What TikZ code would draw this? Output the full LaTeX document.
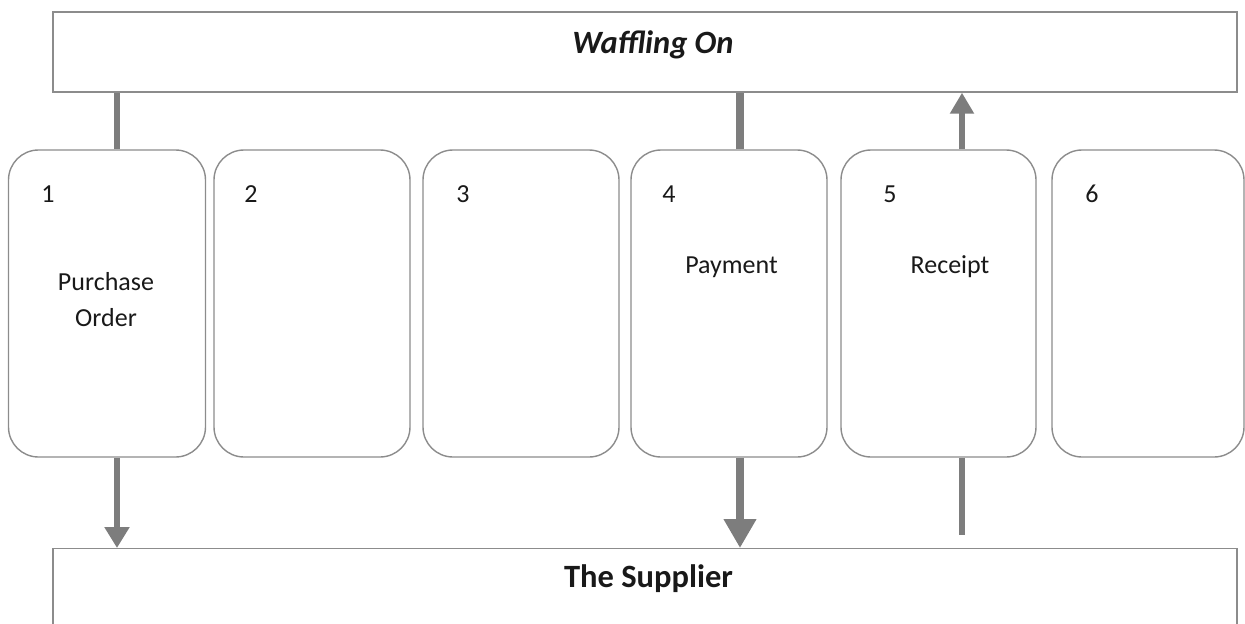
\documentclass[tikz,border=0pt]{standalone}
\usepackage{fontspec}
\setmainfont{Carlito}
\usetikzlibrary{arrows.meta}
\definecolor{boxgray}{RGB}{140,140,140}
\definecolor{linkgray}{RGB}{125,125,125}
\definecolor{inkblack}{RGB}{25,25,25}
\tikzstyle{party}=[draw=boxgray,line width=0.8pt,minimum width=23.68cm,minimum height=1.6cm,inner sep=0pt]
\tikzstyle{stage}=[draw=boxgray,line width=0.8pt,rounded corners=0.6cm,minimum height=6.14cm,inner sep=0pt]
\tikzstyle{title}=[text=inkblack,font=\fontsize{18.5}{22}\selectfont\bfseries,anchor=base]
\tikzstyle{caption}=[text=inkblack,font=\fontsize{14.8}{20.5}\selectfont,align=center]
\tikzstyle{link} = [draw=linkgray,line width=3.4pt]
\tikzstyle{heavy} = [draw=linkgray,line width=5pt]

\begin{document}
\begin{tikzpicture}
    % Page size of the whole picture
    \useasboundingbox (0,0) rectangle (24.9,-12.46);
    % First we draw the two parties
    \node[party] (waffle) at (12.9,-1.04) {};
    \node[party,anchor=north] (supplier) at (12.9,-10.96) {};
    \node[title] (wafflename) at (13.06,-1.06) {\itshape Waffling On};
    \node[title] (suppliername) at (12.97,-11.74) {The Supplier};
    % Then the six stages
    \foreach \pos/\boxw/\name in {{(2.14,-6.07)/3.94/s1}, {(6.24,-6.07)/3.92/s2}, {(10.42,-6.07)/3.92/s3},
                                  {(14.58,-6.07)/3.92/s4}, {(18.77,-6.07)/3.9/s5}, {(22.96,-6.07)/3.84/s6}}
        \node[stage,minimum width=\boxw cm] (\name) at \pos {};
    \foreach \pos/\num in {{(0.96,-4.04)/1}, {(5.02,-4.04)/2}, {(9.26,-4.04)/3},
                           {(13.38,-4.04)/4}, {(17.8,-4.04)/5}, {(21.84,-4.04)/6}}
        \node[caption,anchor=base] (n\num) at \pos {\num};
    \node[caption] (order) at (2.12,-5.99) {Purchase\\Order};
    \node[caption,anchor=base] (payment) at (14.63,-5.46) {Payment};
    \node[caption,anchor=base] (receipt) at (19.0,-5.46) {Receipt};
    % Connect stages with the parties
    \path[link] ([xshift=0.2cm]s1.north) -- ([xshift=0.2cm]s1.north |- waffle.south);
    \path[link,-{Triangle[length=0.42cm,width=0.48cm]}] ([xshift=0.2cm]s1.south) -- ([xshift=0.2cm]s1.south |- supplier.north);
    \path[link,line width=4pt] ([xshift=0.22cm]s4.north) -- ([xshift=0.22cm]s4.north |- waffle.south);
    \path[heavy,-{Triangle[length=0.58cm,width=0.62cm]}] ([xshift=0.22cm]s4.south) -- ([xshift=0.22cm]s4.south |- supplier.north);
    \path[link,-{Triangle[length=0.42cm,width=0.46cm]}] ([xshift=0.47cm]s5.north) -- ([xshift=0.47cm]s5.north |- waffle.south);
    \path[link] ([xshift=0.47cm]s5.south) -- ([xshift=0.47cm,yshift=0.26cm]s5.south |- supplier.north);
\end{tikzpicture}
\end{document}
